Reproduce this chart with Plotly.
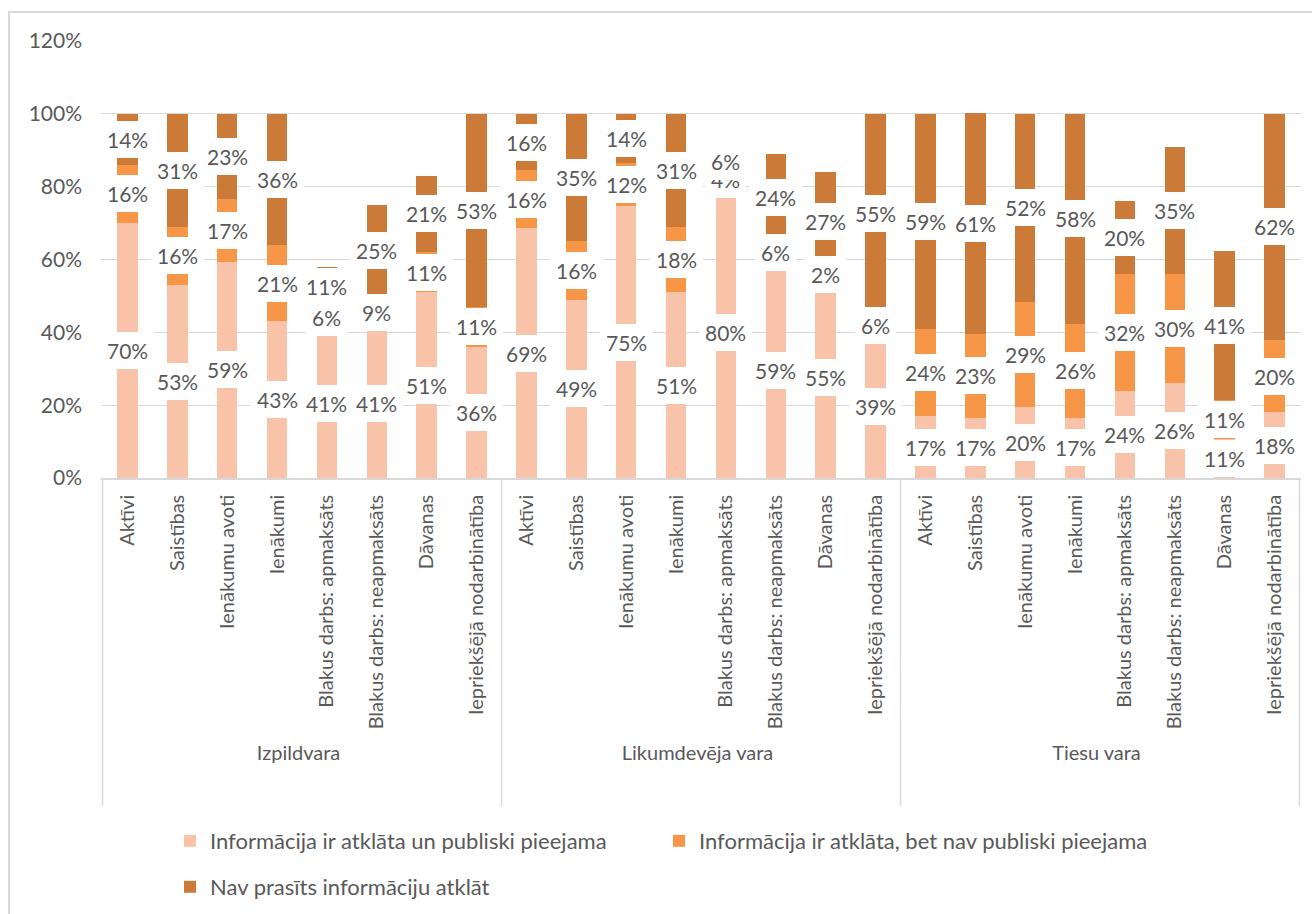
import plotly.graph_objects as go

groups = ["Izpildvara"] * 8 + ["Likumdevēja vara"] * 8 + ["Tiesu vara"] * 8
items = ["Aktīvi", "Saistības", "Ienākumu avoti", "Ienākumi",
         "Blakus darbs: apmaksāts", "Blakus darbs: neapmaksāts", "Dāvanas",
         "Iepriekšējā nodarbinātība"]
categories = items * 3
group_names = ["Izpildvara", "Likumdevēja vara", "Tiesu vara"]

series_names = [
    "Informācija ir atklāta un publiski pieejama",
    "Informācija ir atklāta, bet nav publiski pieejama",
    "Nav prasīts informāciju atklāt",
]

public = [70, 53, 59.4, 43, 41, 41, 51, 36,
          68.6, 49, 74.6, 51, 80, 59, 55, 39,
          17, 16.6, 19.6, 16.6, 24, 26, 10.6, 18]
disclosed = [16, 16, 17.3, 21, 6, 9, 11, 11,
             15.9, 16, 11.8, 18, 4, 6, 2, 6,
             24, 22.9, 28.8, 25.8, 32, 30, 10.8, 20]
not_required = [14, 31, 23.3, 36, 11, 25, 21, 53,
                15.5, 35, 13.6, 31, 6, 24, 27, 55,
                59, 60.6, 51.6, 57.6, 20, 35, 40.8, 62]

colors = ["#F8C3A8", "#F79646", "#CB7A38"]
TXT = "#595959"
GRID = "#D9D9D9"
FONT = "Lato"

fig = go.Figure()
all_series = [public, disclosed, not_required]
legend_ids = ["legend", "legend2", "legend3"]
for k, (name, vals) in enumerate(zip(series_names, all_series)):
    fig.add_trace(go.Bar(
        x=[groups, categories], y=vals, name=name,
        marker=dict(color=colors[k], line=dict(width=0)),
        legend=legend_ids[k], showlegend=True,
        hoverinfo="skip",
    ))

# data labels with white boxes, centred on each segment
for k, vals in enumerate(all_series):
    for i, v in enumerate(vals):
        base = sum(all_series[j][i] for j in range(k))
        fig.add_annotation(
            x=i, y=base + v / 2, xref="x", yref="y",
            text=f"{int(v + 0.5)}%", showarrow=False,
            font=dict(family=FONT, size=21, color=TXT),
            bgcolor="white", borderpad=6, borderwidth=0,
        )

L, R, T, B = 101, 11, 41, 436
W, H = 1312, 914
pw, ph = W - L - R, H - T - B
def px2paper_x(px):
    return (px - L) / pw
def px2paper_y(py):
    return (H - B - py) / ph

# chart-area border
fig.add_shape(type="rect", xref="paper", yref="paper",
              x0=px2paper_x(9), x1=px2paper_x(1330),
              y0=px2paper_y(930), y1=px2paper_y(12),
              line=dict(color=GRID, width=2), layer="below")

# group dividers of the category axis
n_per = len(items)
for g in range(len(group_names) + 1):
    xb = g * n_per - 0.5
    fig.add_shape(type="line", xref="x", yref="paper",
                  x0=xb, x1=xb, y0=0, y1=px2paper_y(806),
                  line=dict(color=GRID, width=1.5), layer="below")

legend_font = dict(family=FONT, size=22, color=TXT)
def leg(xpx, ypx):
    return dict(orientation="h", xref="container", yref="container",
                x=xpx / W, y=1 - ypx / H, xanchor="left", yanchor="middle",
                font=legend_font, bgcolor="rgba(0,0,0,0)", visible=True)

fig.update_layout(
    width=W, height=H,
    margin=dict(l=L, r=R, t=T, b=B),
    barmode="stack", bargap=0.59,
    plot_bgcolor="white", paper_bgcolor="white",
    font=dict(family=FONT, size=20, color=TXT),
    showlegend=True,
    legend=leg(170, 841),
    legend2=leg(659, 841),
    legend3=leg(170, 887),
)
fig.update_yaxes(range=[0, 120], dtick=20, ticksuffix="%",
                 gridcolor=GRID, gridwidth=1.3, zeroline=False,
                 showline=False, ticklabelstandoff=18,
                 tickfont=dict(family=FONT, size=21, color=TXT))
fig.update_xaxes(type="multicategory", tickangle=-90,
                 showline=True, linecolor=GRID, linewidth=1.5,
                 showdividers=False, ticks="", ticklabelstandoff=7,
                 tickfont=dict(family=FONT, size=20, color=TXT))

fig.write_html("out.html")
